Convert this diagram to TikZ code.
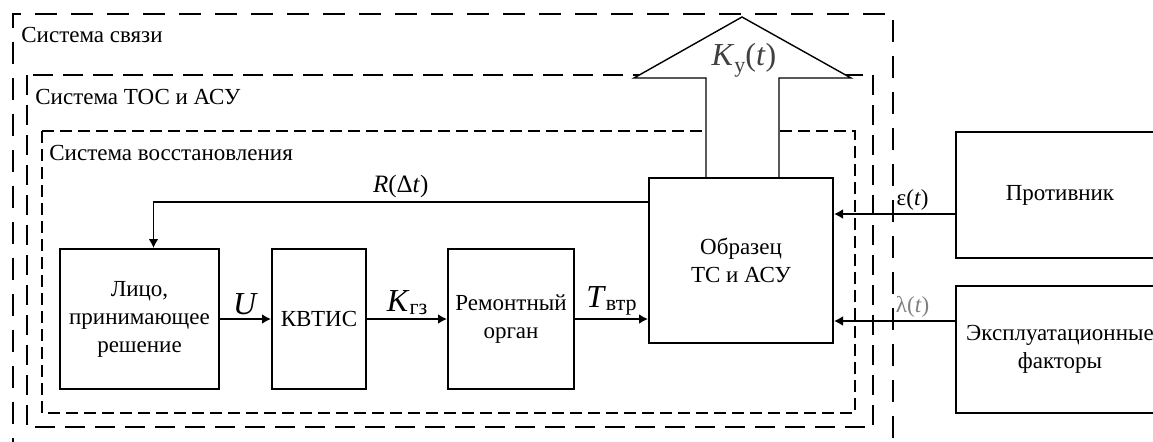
\documentclass[tikz,border=0pt]{standalone}
\usepackage{fontspec}
\setmainfont{Liberation Serif}
\usetikzlibrary{positioning, arrows.meta}

\begin{document}
\begin{tikzpicture}[
  x=0.5pt, y=-0.5pt,
  font=\fontsize{11.5}{14}\selectfont,
  box/.style={draw, line width=1pt, inner sep=0pt, align=center},
  arrow/.style={-{Latex[length=4.5pt, width=5pt]}, line width=0.9pt},
  lbl/.style={inner sep=1.5pt},
  biglbl/.style={inner sep=1.5pt, font=\fontsize{16}{16}\selectfont},
  sysouter/.style={line width=1.4pt, dash pattern=on 11pt off 7pt},
  sysmid/.style={line width=1.3pt, dash pattern=on 10pt off 5pt},
  sysinner/.style={line width=1pt, dash pattern=on 6pt off 3pt},
  systitle/.style={anchor=west, inner sep=0pt},
]
  \useasboundingbox (0,0) rectangle (1153,441);
  \clip (0,0) rectangle (1153,441);

  \draw[sysouter] (13,460) -- (13,14) -- (893,14) -- (893,460);
  \draw[sysmid]   (27,75) rectangle (873,427);
  \draw[sysinner] (42,131) rectangle (855,413);
  \node[systitle] (svyaz) at (21,35)  {Система связи};
  \node[systitle] (tos)   at (35,97)  {Система ТОС и АСУ};
  \node[systitle] (vosst) at (49,153) {Система восстановления};

  \draw[line width=0.7pt, fill=white] (706,178) -- (706,78) -- (634,78) -- (742,17)
    -- (851,78) -- (779,78) -- (779,178);
  \node[biglbl, text=black!75] (ky) at (744,60)
    {\textit{K}\raisebox{-0.45ex}{\fontsize{11}{11}\selectfont у}(\textit{t})};

  \node[box, minimum width=79.5pt, minimum height=70pt] (lico) at (139.5,319)
    {Лицо,\\принимающее\\решение};
  \node[box, minimum width=47pt, minimum height=70pt, right=25.5pt of lico] (kvtis) {КВТИС};
  \node[box, minimum width=63pt, minimum height=70pt, right=40pt of kvtis] (rem) {Ремонтный\\орган};
  \node[box, minimum width=92pt, minimum height=82.5pt] (obr) at (741,260.5) {Образец\\ТС и АСУ};
  \node[box, minimum width=104pt, minimum height=63pt] (prot) at (1060,195) {Противник};
  \node[box, minimum width=104pt, minimum height=63.5pt, below=13pt of prot] (expl)
    {Эксплуатационные\\факторы};

  \coordinate (epsin) at ([yshift=-9.5pt]prot.west);
  \coordinate (lamin) at ([yshift=14.25pt]expl.west);

  \draw[arrow] (lico) -- node[biglbl, above] (ulab) {\textit{U}} (kvtis);
  \draw[arrow] (kvtis) -- node[biglbl, above] (kgz)
    {\textit{K}\raisebox{-0.2ex}{\fontsize{11}{11}\selectfont гз}} (rem);
  \draw[arrow] (rem) -- node[biglbl, above] (tvtr)
    {\textit{T}\raisebox{-0.2ex}{\fontsize{11}{11}\selectfont втр}} (rem -| obr.west);
  \draw[arrow] ([yshift=-12.5pt]obr.north west) -| node[lbl, pos=0.25, above, font=\fontsize{12.5}{14}\selectfont] (rlab)
    {\textit{R}(Δ\textit{t})} ([xshift=7pt]lico.north);
  \draw[arrow] (epsin) -- node[lbl, pos=0.35, above] (eps) {ε(\textit{t})} (epsin -| obr.east);
  \draw[arrow] (lamin) -- node[lbl, pos=0.35, above, text=gray] (lam) {λ(\textit{t})} (lamin -| obr.east);
\end{tikzpicture}
\end{document}
